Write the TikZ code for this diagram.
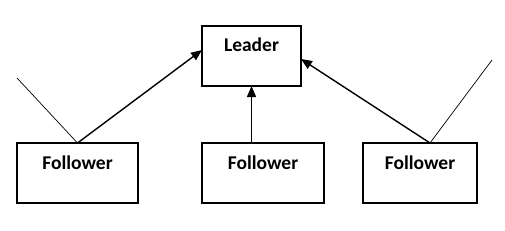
\documentclass[tikz,border=0pt]{standalone}
\usepackage{fontspec}
\setmainfont{Carlito}
\usetikzlibrary{arrows.meta}

\begin{document}
\begin{tikzpicture}[
  x=1pt,y=-1pt,
  font=\fontsize{19.5}{22}\selectfont\bfseries,
  every node/.style={outer sep=0pt},
  box/.style={draw=black,line width=1.2pt,minimum height=60pt,
    inner sep=6pt,text height=20pt,text depth=28pt,anchor=north west},
  link/.style={line width=1.4pt,-{Triangle[length=11pt,width=9pt]}},
  wire/.style={line width=0.7pt},
]
\useasboundingbox(0,0)rectangle(505,230);

\node[box,minimum width=99pt](leader)at(202,26){Leader};
\node[box,minimum width=121pt](fl)at(17,143){Follower};
\node[box,minimum width=122pt](fm)at(202,143){Follower};
\node[box,minimum width=114pt](fr)at(363,143){Follower};

\coordinate(el)at(17,78);
\coordinate(er)at(492,60);

\draw[link](fl.north)--([yshift=6pt]leader.west);
\draw[link](fm.north -| leader.south)--(leader.south);
\draw[link]([xshift=10pt]fr.north)--([yshift=-3pt]leader.east);

\draw[wire](fl.north)--(el);
\draw[wire]([xshift=10pt]fr.north)--(er);
\end{tikzpicture}
\end{document}
